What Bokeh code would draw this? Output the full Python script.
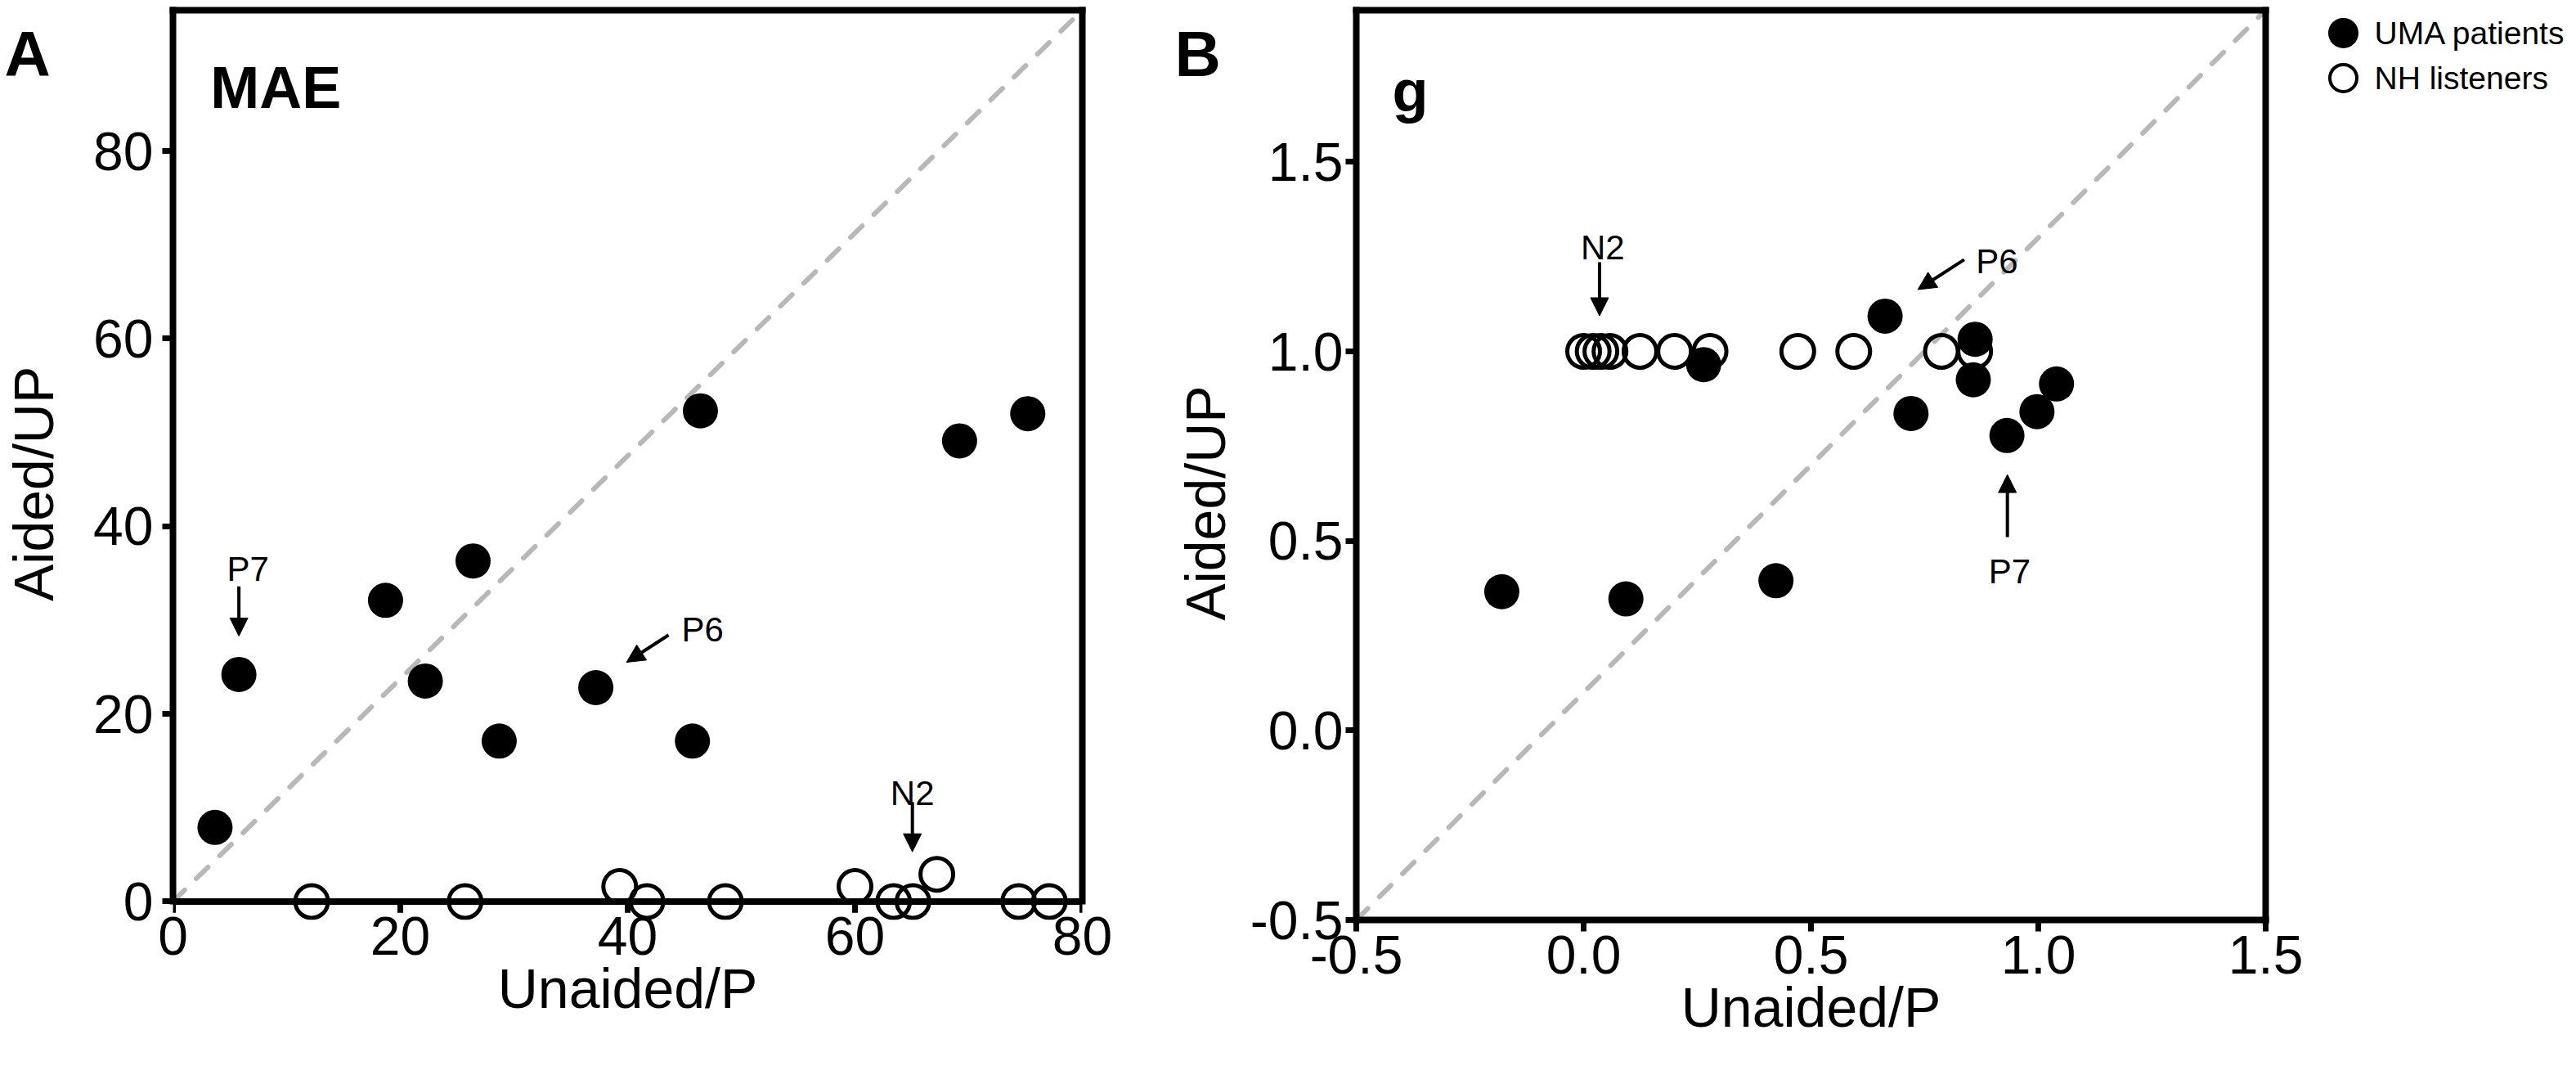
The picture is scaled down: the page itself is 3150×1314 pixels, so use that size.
from math import pi
from bokeh.plotting import figure
from bokeh.models import (Range1d, LinearAxis, FixedTicker, NumeralTickFormatter,
                          BasicTickFormatter, Label, Arrow, NormalHead, Span)
from bokeh.core.properties import value
from bokeh.layouts import row
from bokeh.embed import file_html
from bokeh.resources import INLINE

FONT = "Liberation Sans"

# ---------------- data : panel A (MAE) ----------------
mae_uma_x = [3.7, 5.8, 18.7, 26.4, 22.2, 28.7, 37.2, 45.7, 46.4, 69.2, 75.2]
mae_uma_y = [7.9, 24.2, 32.1, 36.3, 23.5, 17.1, 22.8, 17.1, 52.3, 49.1, 52.0]
mae_nh_x = [12.2, 25.7, 39.3, 41.7, 48.6, 60.0, 63.4, 65.1, 67.2, 74.4, 77.1]
mae_nh_y = [0.0, 0.0, 1.6, 0.0, 0.0, 1.6, 0.0, 0.0, 2.9, 0.0, 0.0]

# ---------------- data : panel B (g) ----------------
g_uma_x = [-0.18, 0.093, 0.423, 0.264, 0.663, 0.861, 0.857, 0.720, 1.040, 0.997, 0.931]
g_uma_y = [0.366, 0.347, 0.395, 0.965, 1.093, 1.032, 0.925, 0.836, 0.914, 0.841, 0.778]
g_nh_x = [0.0, 0.021, 0.038, 0.058, 0.124, 0.200, 0.278, 0.471, 0.594, 0.787, 0.860]
g_nh_y = [1.0, 1.0, 1.0, 1.0, 1.0, 1.0, 1.0, 1.0, 1.0, 1.0, 1.0]

series_labels = ["UMA patients", "NH listeners"]

# axes
mae_ticks = [0, 20, 40, 60, 80]
mae_x_range = (0, 80)
mae_y_range = (-1.965, 95)      # a little room below 0 so the circles on 0 are whole
mae_y_bounds = (0, 95)
mae_title_bounds = (-3.5, 80)   # x title sits slightly left of centre
g_ticks = [-0.5, 0.0, 0.5, 1.0, 1.5]
g_x_range = (-0.5, 1.5)
g_y_range = (-0.5, 1.9)
g_title_bounds = (-0.586, 1.5)

# identity (corner to corner) lines
mae_diag_x = [0, 80]
mae_diag_y = [0, 95]
g_diag_x = [-0.5, 1.5]
g_diag_y = [-0.5, 1.9]

# annotations (text, text x, text y, arrow x0, y0, x1, y1)
mae_notes = [("P7", 6.6, 35.4, 5.8, 33.6, 5.8, 28.3),
             ("P6", 46.6, 29.0, 43.6, 28.4, 39.9, 25.5),
             ("N2", 65.05, 11.56, 65.05, 10.6, 65.05, 5.3)]
g_notes = [("N2", 0.042, 1.275, 0.035, 1.235, 0.035, 1.094),
           ("P6", 0.909, 1.238, 0.837, 1.242, 0.735, 1.163),
           ("P7", 0.937, 0.419, 0.932, 0.51, 0.932, 0.675)]

# layout (pixels)
H = 1314
W_SA, W_PA, W_SB, W_PB, W_SC = 101, 1312, 105, 1312, 320
FRAME_W = 1112
TICK_PX = 14

# legend strip positions (pixels inside the strip)
legend_mark_x = [35, 35]
legend_mark_y = [1281, 1216]
legend_text_x = [73, 73]


def blank(width):
    p = figure(width=width, height=H, x_range=Range1d(0, width), y_range=Range1d(0, H),
               output_backend="svg", toolbar_location=None,
               x_axis_location=None, y_axis_location=None,
               min_border_left=0, min_border_right=0, min_border_top=0,
               min_border_bottom=0)
    p.outline_line_color = None
    p.grid.visible = False
    p.background_fill_color = "white"
    p.border_fill_color = "white"
    return p


def style_axis(ax, bounds, ticks=None, fmt=None, tick_out=14, standoff=5,
               line=True, tick_line=True, label=None, label_standoff=0):
    ax.bounds = bounds
    ax.axis_line_width = 8
    ax.axis_line_color = "black" if line else None
    ax.axis_line_cap = "square"
    ax.minor_tick_line_color = None
    ax.minor_tick_out = 0
    ax.minor_tick_in = 0
    ax.major_tick_in = 0
    if ticks is None:
        ax.ticker = FixedTicker(ticks=[])
        ax.major_tick_out = 0
        ax.major_tick_line_color = None
        ax.major_label_standoff = 0
    else:
        ax.ticker = FixedTicker(ticks=ticks)
        ax.major_tick_out = tick_out
        ax.major_tick_line_width = 7
        ax.major_tick_line_color = "black" if tick_line else None
        ax.major_label_text_font = FONT
        ax.major_label_text_font_size = "66px"
        ax.major_label_text_color = "black"
        ax.major_label_standoff = standoff
        if fmt is not None:
            ax.formatter = fmt
    if label:
        ax.axis_label = label
        ax.axis_label_text_font = FONT
        ax.axis_label_text_font_size = "68px"
        ax.axis_label_text_font_style = "normal"
        ax.axis_label_text_color = "black"
        ax.axis_label_standoff = label_standoff


def make_panel(width, b_left, b_bottom, xr, yr, ybounds):
    p = figure(width=width, height=H, x_range=Range1d(*xr), y_range=Range1d(*yr),
               output_backend="svg", toolbar_location=None,
               x_axis_location=None, y_axis_location=None,
               min_border_left=b_left, min_border_right=width - b_left - FRAME_W,
               min_border_top=12, min_border_bottom=b_bottom)
    p.outline_line_color = None
    p.grid.visible = False
    p.background_fill_color = "white"
    p.border_fill_color = "white"
    xt = LinearAxis()
    style_axis(xt, xr)
    p.add_layout(xt, "above")
    yrgt = LinearAxis()
    style_axis(yrgt, ybounds)
    p.add_layout(yrgt, "right")
    return p


def add_notes(p, notes):
    for t, tx, ty, x0, y0, x1, y1 in notes:
        p.add_layout(Label(x=tx, y=ty, text=t, text_font=FONT, text_font_size="42px",
                           text_align="center", text_baseline="alphabetic",
                           text_color="black"))
        p.add_layout(Arrow(x_start=x0, y_start=y0, x_end=x1, y_end=y1,
                           line_width=4, line_color="black",
                           end=NormalHead(size=22, fill_color="black",
                                          line_color="black", line_width=1)))


def add_text(p, x, y, text, size, bold=False, align="left", angle=0.0,
             baseline="alphabetic"):
    p.add_layout(Label(x=x, y=y, text=text, text_font=FONT, text_font_size=size,
                       text_font_style="bold" if bold else "normal",
                       text_align=align, text_baseline=baseline,
                       text_color="black", angle=angle))


# ---------------- left strip of panel A: panel letter + y title ----------------
sA = blank(W_SA)
add_text(sA, 5, 1251, "A", "78px", bold=True)
add_text(sA, 40, 630, "Aided/UP", "68px", align="center", angle=pi / 2,
         baseline="middle")

# ---------------- panel A ----------------
pA = make_panel(W_PA, 110, 167, mae_x_range, mae_y_range, mae_y_bounds)
xa = LinearAxis()     # tick labels and title under the frame
style_axis(xa, mae_title_bounds, mae_ticks, BasicTickFormatter(), tick_out=0,
           standoff=-4, line=False, tick_line=False, label="Unaided/P",
           label_standoff=0)
pA.add_layout(xa, "below")
ya = LinearAxis()
style_axis(ya, mae_y_bounds, mae_ticks, BasicTickFormatter(), tick_out=13, standoff=11)
pA.add_layout(ya, "left")
# x axis line and its tick marks at y = 0
pA.add_layout(Span(location=0, dimension="width", line_color="black", line_width=8))
a_y_per_px = (mae_y_range[1] - mae_y_range[0]) / (H - 12 - 167)
pA.segment(x0=mae_ticks, y0=[0] * len(mae_ticks), x1=mae_ticks,
           y1=[-TICK_PX * a_y_per_px] * len(mae_ticks), line_color="black",
           line_width=7)

pA.line(mae_diag_x, mae_diag_y, line_color="#b8b8b8", line_width=6,
        line_dash="20 20", line_cap="round")
pA.scatter(mae_nh_x, mae_nh_y, marker="circle", size=40, fill_color=None,
           line_color="black", line_width=5)
pA.scatter(mae_uma_x, mae_uma_y, marker="circle", size=43, fill_color="black",
           line_color=None)
add_notes(pA, mae_notes)
add_text(pA, 3.3, 86.8, "MAE", "72px", bold=True)

# ---------------- left strip of panel B ----------------
sB = blank(W_SB)
add_text(sB, 23, 1251, "B", "78px", bold=True)
add_text(sB, 60, 602, "Aided/UP", "68px", align="center", angle=pi / 2,
         baseline="middle")

# ---------------- panel B ----------------
pB = make_panel(W_PB, 140, 190, g_x_range, g_y_range, g_y_range)
xb_line = LinearAxis()
style_axis(xb_line, g_x_range)
pB.add_layout(xb_line, "below")
xb = LinearAxis()
style_axis(xb, g_title_bounds, g_ticks, NumeralTickFormatter(format="0.0"),
           tick_out=14, standoff=5, line=False, label="Unaided/P", label_standoff=0)
pB.add_layout(xb, "below")
yb = LinearAxis()
style_axis(yb, g_y_range, g_ticks, NumeralTickFormatter(format="0.0"), tick_out=13,
           standoff=3)
pB.add_layout(yb, "left")

pB.line(g_diag_x, g_diag_y, line_color="#b8b8b8", line_width=6,
        line_dash="20 20", line_cap="round")
pB.scatter(g_nh_x, g_nh_y, marker="circle", size=40, fill_color=None,
           line_color="black", line_width=5)
pB.scatter(g_uma_x, g_uma_y, marker="circle", size=43, fill_color="black",
           line_color=None)
add_notes(pB, g_notes)
add_text(pB, -0.421, 1.687, "g", "72px", bold=True)

# ---------------- legend strip ----------------
sC = blank(W_SC)
sC.scatter(legend_mark_x[:1], legend_mark_y[:1], marker="circle", size=37,
           fill_color="black", line_color=None)
sC.scatter(legend_mark_x[1:], legend_mark_y[1:], marker="circle", size=33,
           fill_color=None, line_color="black", line_width=4)
sC.text(legend_text_x, legend_mark_y, text=series_labels, text_font=value(FONT),
        text_font_size="39px", text_baseline="middle", text_align="left",
        text_color="black")

layout = row(sA, pA, sB, pB, sC)
open("out.html", "w").write(file_html(layout, INLINE))
